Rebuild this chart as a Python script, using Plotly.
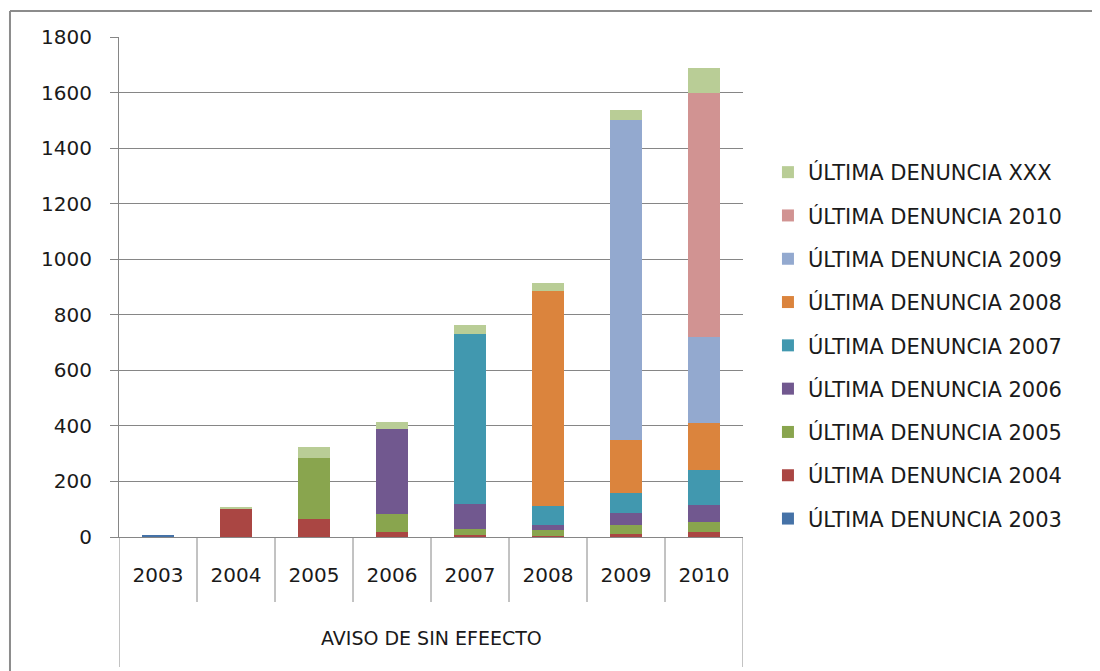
import plotly.graph_objects as go

categories = ["2003", "2004", "2005", "2006", "2007", "2008", "2009", "2010"]
outer_label = "AVISO DE SIN EFEECTO"

series_names = [
    "ÚLTIMA DENUNCIA 2003",
    "ÚLTIMA DENUNCIA 2004",
    "ÚLTIMA DENUNCIA 2005",
    "ÚLTIMA DENUNCIA 2006",
    "ÚLTIMA DENUNCIA 2007",
    "ÚLTIMA DENUNCIA 2008",
    "ÚLTIMA DENUNCIA 2009",
    "ÚLTIMA DENUNCIA 2010",
    "ÚLTIMA DENUNCIA XXX",
]

s2003 = [5, 0, 0, 0, 0, 0, 0, 0]
s2004 = [0, 103, 64, 18, 7, 3, 10, 18]
s2005 = [0, 0, 219, 65, 23, 22, 32, 36]
s2006 = [0, 0, 0, 307, 90, 17, 46, 61]
s2007 = [0, 0, 0, 0, 611, 70, 69, 127]
s2008 = [0, 0, 0, 0, 0, 774, 192, 168]
s2009 = [0, 0, 0, 0, 0, 0, 1152, 309]
s2010 = [0, 0, 0, 0, 0, 0, 0, 878]
sxxx = [0, 2, 42, 25, 32, 30, 36, 93]

series_values = [s2003, s2004, s2005, s2006, s2007, s2008, s2009, s2010, sxxx]

colors = ["#4572A7", "#AA4643", "#89A54E", "#71588F", "#4198AF",
          "#DB843D", "#93A9CF", "#D19392", "#B9CD96"]

y_ticks = [0, 200, 400, 600, 800, 1000, 1200, 1400, 1600, 1800]

FONT = "DejaVu Sans"
GRAY = "#868686"

fig = go.Figure()
nser = len(series_names)
for i, (name, vals, col) in enumerate(zip(series_names, series_values, colors)):
    fig.add_trace(go.Bar(
        x=categories, y=vals, name=name, legendgroup=name,
        legendrank=(nser - i) * 10,
        marker=dict(color=col, line=dict(width=0)),
    ))

shapes = []
n = len(categories)
# category boundary lines below the axis
for i in range(n + 1):
    shapes.append(dict(type="line", xref="x", yref="paper",
                       x0=i - 0.5, x1=i - 0.5, y0=0,
                       y1=-0.26 if i in (0, n) else -0.13,
                       line=dict(color=GRAY, width=1)))
# outer frame (chart area border)
shapes.append(dict(type="line", xref="paper", yref="paper",
                   x0=-0.1747, x1=1.7, y0=1.052, y1=1.052,
                   line=dict(color="#8c8c8c", width=2)))
shapes.append(dict(type="line", xref="paper", yref="paper",
                   x0=-0.1747, x1=-0.1747, y0=1.052, y1=-0.4,
                   line=dict(color="#8c8c8c", width=2)))

fig.update_layout(
    width=1100, height=671,
    margin=dict(l=111, r=365, t=29, b=142),
    paper_bgcolor="white", plot_bgcolor="white",
    barmode="stack", bargap=0.59,
    font=dict(family=FONT, size=20, color="#1a1a1a"),
    showlegend=True,
    legend=dict(
        x=1.04, y=0.770, xanchor="left", yanchor="top",
        traceorder="grouped", tracegroupgap=13,
        font=dict(family=FONT, size=21, color="#1a1a1a"),
        bgcolor="rgba(0,0,0,0)",
    ),
    xaxis=dict(
        type="category", categoryorder="array", categoryarray=categories,
        showline=True, linecolor=GRAY, linewidth=1,
        ticks="", showgrid=False, ticklabelstandoff=20,
        tickfont=dict(family=FONT, size=20, color="#1a1a1a"),
        range=[-0.5, n - 0.5], fixedrange=True,
    ),
    yaxis=dict(
        range=[0, 1800], tickvals=y_ticks,
        showline=True, linecolor=GRAY, linewidth=1,
        showgrid=True, gridcolor=GRAY, gridwidth=1,
        ticks="outside", ticklen=8, tickcolor=GRAY,
        ticklabelstandoff=14, zeroline=False,
        tickfont=dict(family=FONT, size=20, color="#1a1a1a"),
    ),
    shapes=shapes,
    annotations=[dict(
        text=outer_label, xref="paper", yref="paper",
        x=0.5, y=-0.202, xanchor="center", yanchor="middle",
        showarrow=False, font=dict(family=FONT, size=19, color="#1a1a1a"),
    )],
)

fig.write_html("out.html")
